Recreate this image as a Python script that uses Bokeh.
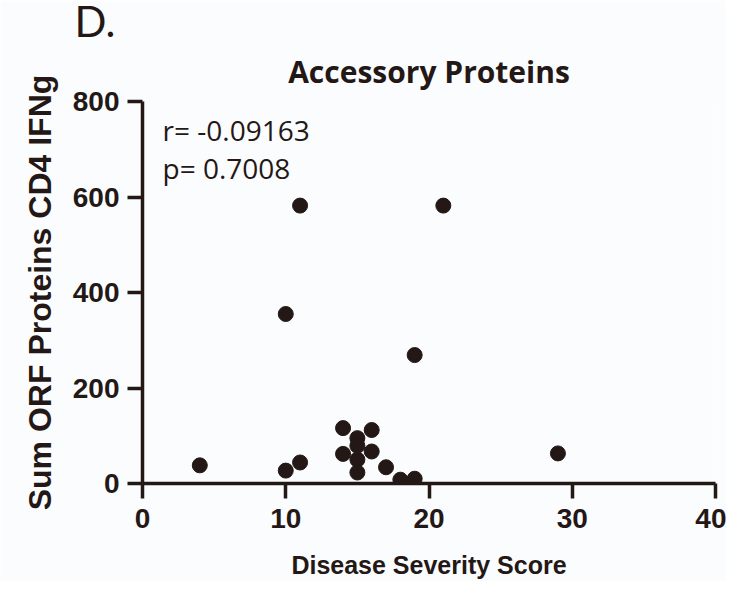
from bokeh.plotting import figure
from bokeh.models import Range1d, Label, FixedTicker, ColumnDataSource, Title
from bokeh.embed import file_html
from bokeh.resources import INLINE

severity = [4, 10, 10, 11, 11, 14, 14, 15, 15, 15, 15, 16, 16, 17, 18, 19, 19, 21, 29]
ifng = [38, 355, 27, 582, 44, 116, 62, 95, 79, 50, 23, 112, 67, 34, 8, 10, 269, 582, 63]
x_ticks = [0, 10, 20, 30, 40]
y_ticks = [0, 200, 400, 600, 800]
panel = "D."
title = "Accessory Proteins"
stats = ["r= -0.09163", "p= 0.7008"]
xlabel = "Disease Severity Score"
ylabel = "Sum ORF Proteins CD4 IFNg"

INK = "#231815"
BG = "#fbfcfe"
AX_FONT = "'Liberation Sans', sans-serif"

p = figure(width=726, height=581, output_backend="svg", toolbar_location=None,
           x_range=Range1d(0, 40), y_range=Range1d(0, 800),
           min_border_left=142, min_border_right=11, min_border_top=0, min_border_bottom=0)
p.background_fill_color = BG
p.border_fill_color = BG
p.outline_line_color = None
p.grid.visible = False

p.title = Title(text=panel, align="left", offset=-68, text_font="Lato",
                text_font_style="normal", text_font_size="42px", text_color=INK,
                standoff=-13)
p.add_layout(Title(text=title, align="center", text_font="Open Sans", text_font_style="bold",
                   text_font_size="30px", text_color=INK, standoff=19), "above")

for ax in (p.xaxis[0], p.yaxis[0]):
    ax.axis_line_color = INK
    ax.axis_line_width = 3.5
    ax.major_tick_line_color = INK
    ax.major_tick_line_width = 3.5
    ax.major_tick_out = 15
    ax.major_tick_in = 0
    ax.minor_tick_line_color = None
    ax.major_label_text_font = AX_FONT
    ax.major_label_text_font_style = "bold"
    ax.major_label_text_font_size = "28px"
    ax.major_label_text_color = INK
    ax.axis_label_text_font = AX_FONT
    ax.axis_label_text_font_style = "bold"
    ax.axis_label_text_color = INK

p.xaxis.axis_label_text_font_size = "25px"
p.yaxis.axis_label_text_font_size = "32px"
p.xaxis.ticker = FixedTicker(ticks=x_ticks)
p.yaxis.ticker = FixedTicker(ticks=y_ticks)
p.xaxis.axis_label = xlabel
p.yaxis.axis_label = ylabel
p.xaxis.major_label_standoff = 10
p.yaxis.major_label_standoff = 8
p.xaxis.axis_label_standoff = 20
p.yaxis.axis_label_standoff = 12

src = ColumnDataSource(dict(x=severity, y=ifng))
p.scatter("x", "y", source=src, size=15, fill_color=INK, line_color=INK)

for i, s in enumerate(stats):
    p.add_layout(Label(x=1.4, y=741 - 81 * i, text=s, text_font="Open Sans",
                       text_font_size="28px", text_color=INK, text_baseline="alphabetic"))

open("out.html", "w").write(file_html(p, INLINE))
